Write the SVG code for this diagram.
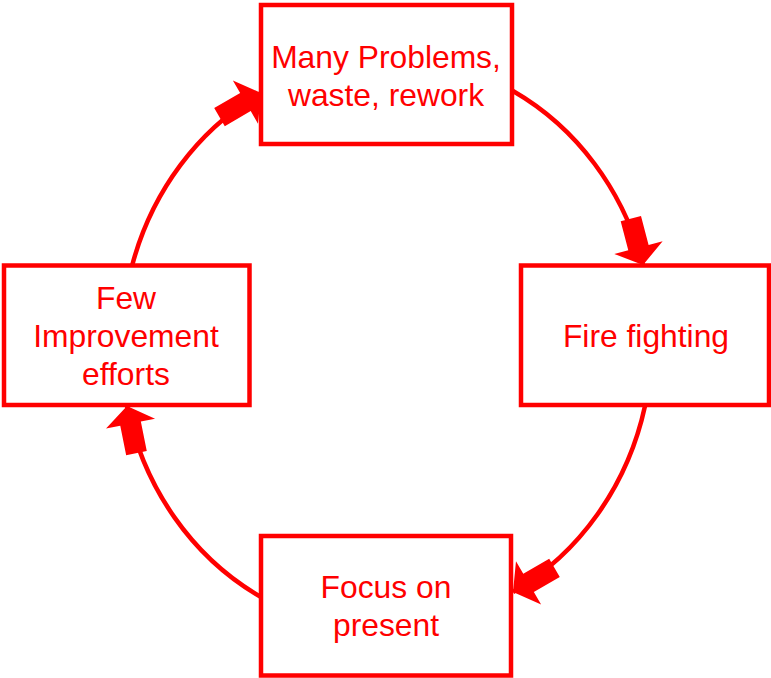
<svg xmlns="http://www.w3.org/2000/svg" width="771" height="678" viewBox="0 0 771 678">
<style>
.box{fill:#fff;stroke:#ff0000;stroke-width:4.5}
.lbl{font-family:"Liberation Sans",Arial,sans-serif;font-size:31.8px;fill:#ff0000;text-anchor:middle}
.arc{fill:none;stroke:#ff0000;stroke-width:4.5;marker-end:url(#blk)}
</style>
<defs>
<marker id="blk" markerUnits="userSpaceOnUse" orient="auto" markerWidth="60" markerHeight="60" viewBox="-50 -30 60 60" refX="0" refY="0" overflow="visible">
<path d="M0,0 L-18,-25 L-18,-10.5 L-48,-10.5 L-48,10.5 L-18,10.5 L-18,25 Z" fill="#ff0000"/>
</marker>
</defs>
<rect width="771" height="678" fill="#fff"/>
<g id="connectors">
<path class="arc" d="M132,266 A265,285 0 0 1 261,93"/>
<path class="arc" d="M513,91 A265,285 0 0 1 643,265"/>
<path class="arc" d="M645,406 A265,285 0 0 1 513,592"/>
<path class="arc" d="M261,597 A265,285 0 0 1 127,406"/>
</g>
<g id="n-problems">
<rect class="box" x="261" y="5" width="251" height="139"/>
<text class="lbl" x="386" y="68">Many Problems,</text>
<text class="lbl" x="386" y="106">waste, rework</text>
</g>
<g id="n-firefighting">
<rect class="box" x="521" y="265.5" width="248" height="139.5"/>
<text class="lbl" x="646" y="347">Fire fighting</text>
</g>
<g id="n-focus">
<rect class="box" x="261" y="536" width="250" height="139.5"/>
<text class="lbl" x="386" y="598">Focus on</text>
<text class="lbl" x="386" y="636">present</text>
</g>
<g id="n-few">
<rect class="box" x="4" y="265.5" width="245.5" height="139.5"/>
<text class="lbl" x="126" y="309">Few</text>
<text class="lbl" x="126" y="347">Improvement</text>
<text class="lbl" x="126" y="385">efforts</text>
</g>
</svg>
